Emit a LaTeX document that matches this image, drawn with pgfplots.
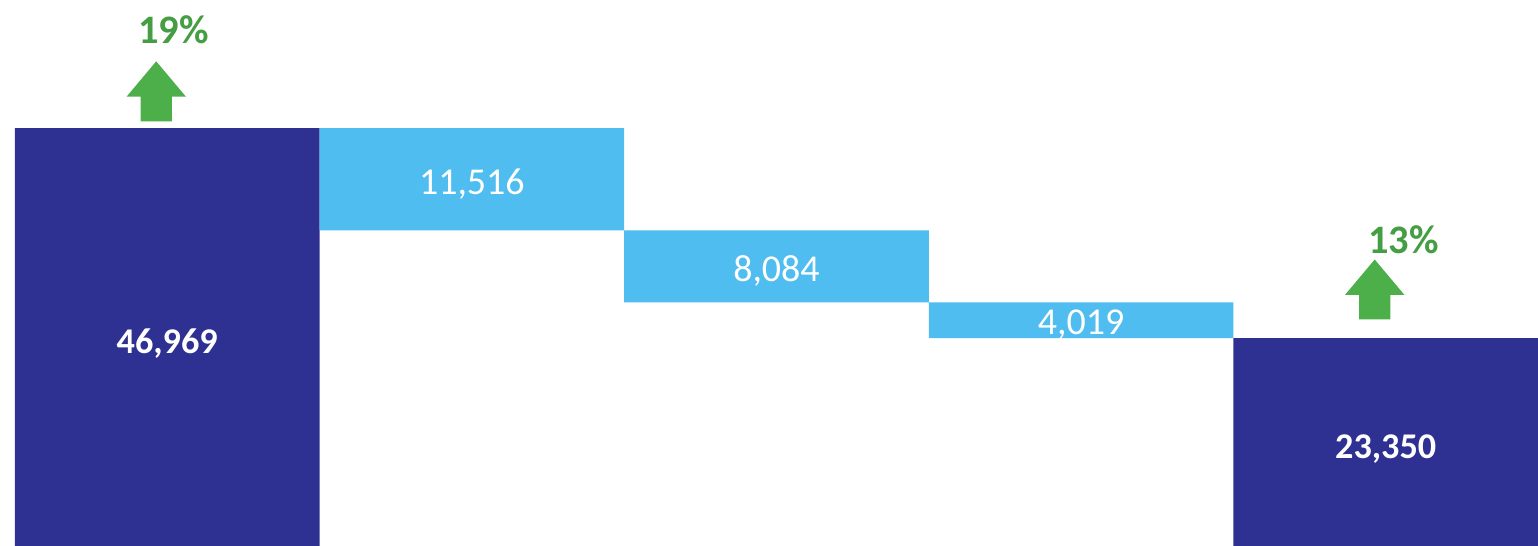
\documentclass[border=0pt]{standalone}
\usepackage{pgfplots}
\pgfplotsset{compat=1.18}
\usepackage{pgfplotstable}
\usepackage{fontspec}
\setmainfont{Carlito}
\usetikzlibrary{shapes.arrows}

\definecolor{navy}{HTML}{2E3192}
\definecolor{sky}{HTML}{4FBDF0}
\definecolor{upgreen}{HTML}{4DAF4A}

% values in thousands; invisible base of the floating bars
\pgfplotstableread{
x h lab
0 0 {}
1 35.453 {}
2 27.369 {}
3 23.350 {}
4 0 {}
}\basedata
\pgfplotstableread{
x h lab
0 0 {}
1 11.516 {11,516}
2 8.084 {8,084}
3 4.019 {4,019}
4 0 {}
}\stepdata
\pgfplotstableread{
x h lab
0 46.969 {46,969}
1 0 {}
2 0 {}
3 0 {}
4 23.350 {23,350}
}\totaldata

\tikzset{
  uparrow/.style={single arrow, fill=upgreen, draw=none, rotate=90,
      anchor=tail, minimum height=6mm, inner xsep=0pt, inner ysep=1.5mm,
      single arrow head extend=1.4mm, single arrow tip angle=80, yshift=1.1mm},
  pctlabel/.style={text=upgreen!90!black, font=\fontsize{11.5}{13}\selectfont\bfseries, yshift=9.8mm},
}

\begin{document}
\begin{tikzpicture}
\begin{axis}[
    scale only axis,
    width=15.38cm, height=5.46cm,
    xmin=-0.549, xmax=4.5,
    ymin=0, ymax=61.353,
    hide axis,
    clip=false,
    ybar stacked,
    bar width=1,
    point meta=explicit symbolic,
    nodes near coords,
    every node near coord/.append style={anchor=center},
]
\path (rel axis cs:0,0) rectangle (rel axis cs:1,1);
\addplot[draw=none, fill=none, nodes near coords={}] table[x=x, y=h, meta=lab] {\basedata};
\addplot[draw=none, fill=sky,
    nodes near coords style={text=white, yshift=-0.45mm, font=\fontsize{10.8}{12}\selectfont}]
    table[x=x, y=h, meta=lab] {\stepdata};
\addplot[draw=none, fill=navy,
    nodes near coords style={text=white, yshift=-0.7mm, font=\fontsize{10.3}{12}\selectfont\bfseries}]
    table[x=x, y=h, meta=lab] {\totaldata};

\node[uparrow, xshift=0.6mm] at (axis cs:0,46.969) {};
\node[pctlabel, xshift=0.6mm] at (axis cs:0,46.969) {19\%};
\node[uparrow, xshift=1.8mm] at (axis cs:4,23.350) {};
\node[pctlabel, xshift=1.8mm] at (axis cs:4,23.350) {13\%};
\end{axis}
\end{tikzpicture}
\end{document}
